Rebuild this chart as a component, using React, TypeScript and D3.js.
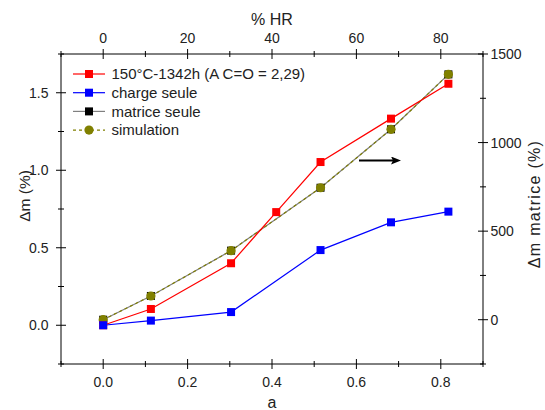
import React from "react";
import * as d3 from "d3";

const aRed = [0, 0.113, 0.303, 0.41, 0.515, 0.682, 0.818];
const dmRed = [0.0, 0.105, 0.4, 0.73, 1.053, 1.333, 1.558];
const aBlue = [0, 0.113, 0.303, 0.515, 0.682, 0.818];
const dmBlue = [0.0, 0.03, 0.085, 0.485, 0.664, 0.733];
const aMat = [0, 0.113, 0.303, 0.515, 0.682, 0.818];
const dmMat = [0, 134, 390, 745, 1075, 1385];
const dmSim = [0, 134, 390, 745, 1075, 1385];

const bottomMajor = [0, 0.2, 0.4, 0.6, 0.8];
const bottomMinor = [-0.1, 0.1, 0.3, 0.5, 0.7, 0.9];
const topMajor = [0, 20, 40, 60, 80];
const topMinor = [-10, 10, 30, 50, 70, 90];
const leftMajor = [0, 0.5, 1.0, 1.5];
const leftMinor = [-0.25, 0.25, 0.75, 1.25, 1.75];
const rightMajor = [0, 500, 1000, 1500];
const rightMinor = [-250, 250, 750, 1250];

const legendLabels = ["150°C-1342h (A C=O = 2,29)", "charge seule", "matrice seule", "simulation"];

const L = 61, R = 483, T = 54, B = 364;
const FONT = "'Liberation Sans', Arial, sans-serif";

export default function App() {
  const x = d3.scaleLinear().domain([-0.1, 0.9]).range([L, R]);
  const xTop = d3.scaleLinear().domain([-10, 90]).range([L, R]);
  const y = d3.scaleLinear().domain([-0.25, 1.75]).range([B, T]);
  const yR = d3.scaleLinear().domain([-250, 1500]).range([B, T]);

  const lineL = d3.line<[number, number]>().x(d => x(d[0])).y(d => y(d[1]));
  const lineR = d3.line<[number, number]>().x(d => x(d[0])).y(d => yR(d[1]));

  const red = aRed.map((a, i) => [a, dmRed[i]] as [number, number]);
  const blue = aBlue.map((a, i) => [a, dmBlue[i]] as [number, number]);
  const mat = aMat.map((a, i) => [a, dmMat[i]] as [number, number]);
  const sim = aMat.map((a, i) => [a, dmSim[i]] as [number, number]);

  const sq = (cx: number, cy: number, fill: string, key: string) => (
    <rect key={key} x={cx - 4} y={cy - 4} width={8} height={8} fill={fill} />
  );

  const tickStyle = { stroke: "#000", strokeWidth: 1 };

  return (
    <svg width={545} height={410} style={{ position: "absolute", left: 0, top: 0, fontFamily: FONT }}>
      <defs>
        <marker id="ah" markerWidth="10" markerHeight="8" refX="2" refY="4" orient="auto" markerUnits="userSpaceOnUse">
          <path d="M0,0 L10,4 L0,8 L2,4 Z" fill="#000" />
        </marker>
      </defs>
      <rect width={545} height={410} fill="#fff" />

      {/* data lines */}
      <path d={lineR(mat) || ""} fill="none" stroke="#808080" strokeWidth={1.2} />
      <path d={lineR(sim) || ""} fill="none" stroke="#808000" strokeWidth={1.2} strokeDasharray="3,3" />
      <path d={lineL(blue) || ""} fill="none" stroke="#0000FF" strokeWidth={1.2} />
      <path d={lineL(red) || ""} fill="none" stroke="#FF0000" strokeWidth={1.2} />

      {mat.map((d, i) => sq(x(d[0]), yR(d[1]), "#000", "m" + i))}
      {sim.map((d, i) => (
        <circle key={"s" + i} cx={x(d[0])} cy={yR(d[1])} r={4.6} fill="#808000" />
      ))}
      {red.map((d, i) => sq(x(d[0]), y(d[1]), "#FF0000", "r" + i))}
      {blue.map((d, i) => sq(x(d[0]), y(d[1]), "#0000FF", "b" + i))}

      {/* arrow */}
      <line x1={359} y1={160.5} x2={393} y2={160.5} stroke="#000" strokeWidth={2.2} markerEnd="url(#ah)" />

      {/* frame */}
      <line x1={L} y1={B} x2={R} y2={B} {...tickStyle} />
      <line x1={L} y1={T} x2={R} y2={T} {...tickStyle} />
      <line x1={L} y1={T} x2={L} y2={B} {...tickStyle} />
      <line x1={R} y1={T} x2={R} y2={B} {...tickStyle} />

      {/* bottom */}
      {bottomMajor.map(v => (
        <g key={"bM" + v}>
          <line x1={x(v)} x2={x(v)} y1={B - 5} y2={B + 5} {...tickStyle} />
          <text x={x(v)} y={386.5} textAnchor="middle" fontSize={14} fill="#222">{v.toFixed(1)}</text>
        </g>
      ))}
      {bottomMinor.map(v => (
        <line key={"bm" + v} x1={x(v)} x2={x(v)} y1={B - 3} y2={B + 3} {...tickStyle} />
      ))}
      {/* top */}
      {topMajor.map(v => (
        <g key={"tM" + v}>
          <line x1={xTop(v)} x2={xTop(v)} y1={T - 5} y2={T + 5} {...tickStyle} />
          <text x={xTop(v)} y={42.5} textAnchor="middle" fontSize={14} fill="#222">{v}</text>
        </g>
      ))}
      {topMinor.map(v => (
        <line key={"tm" + v} x1={xTop(v)} x2={xTop(v)} y1={T - 3} y2={T + 3} {...tickStyle} />
      ))}
      {/* left */}
      {leftMajor.map(v => (
        <g key={"lM" + v}>
          <line x1={L - 5} x2={L + 5} y1={y(v)} y2={y(v)} {...tickStyle} />
          <text x={48.5} y={y(v) + 5} textAnchor="end" fontSize={14} fill="#222">{v.toFixed(1)}</text>
        </g>
      ))}
      {leftMinor.map(v => (
        <line key={"lm" + v} x1={L - 3} x2={L + 3} y1={y(v)} y2={y(v)} {...tickStyle} />
      ))}
      {/* right */}
      {rightMajor.map(v => (
        <g key={"rM" + v}>
          <line x1={R - 5} x2={R + 5} y1={yR(v)} y2={yR(v)} {...tickStyle} />
          <text x={490.5} y={yR(v) + 5} textAnchor="start" fontSize={14} fill="#222">{v}</text>
        </g>
      ))}
      {rightMinor.map(v => (
        <line key={"rm" + v} x1={R - 3} x2={R + 3} y1={yR(v)} y2={yR(v)} {...tickStyle} />
      ))}

      {/* titles */}
      <text x={272} y={25} textAnchor="middle" fontSize={16} fill="#222">% HR</text>
      <text x={272} y={408} textAnchor="middle" fontSize={16} fill="#222">a</text>
      <text transform="translate(30,196) rotate(-90)" textAnchor="middle" fontSize={15.5} fill="#222">Δm (%)</text>
      <text transform="translate(539.5,204) rotate(-90)" textAnchor="middle" fontSize={16} letterSpacing={1.3} fill="#222">Δm matrice (%)</text>

      {/* legend */}
      {legendLabels.map((lab, i) => {
        const ly = 74 + i * 18.7;
        const colors = ["#FF0000", "#0000FF", "#808080", "#808000"];
        return (
          <g key={"lg" + i}>
            <line x1={73} x2={105} y1={ly} y2={ly} stroke={colors[i]} strokeWidth={1.2}
              strokeDasharray={i === 3 ? "3,3" : undefined} />
            {i === 3 ? (
              <circle cx={89} cy={ly} r={4.6} fill="#808000" />
            ) : (
              sq(89, ly, i === 2 ? "#000" : colors[i], "lgm" + i)
            )}
            <text x={111.5} y={ly + 5.3} fontSize={15} fill="#222">{lab}</text>
          </g>
        );
      })}
    </svg>
  );
}
